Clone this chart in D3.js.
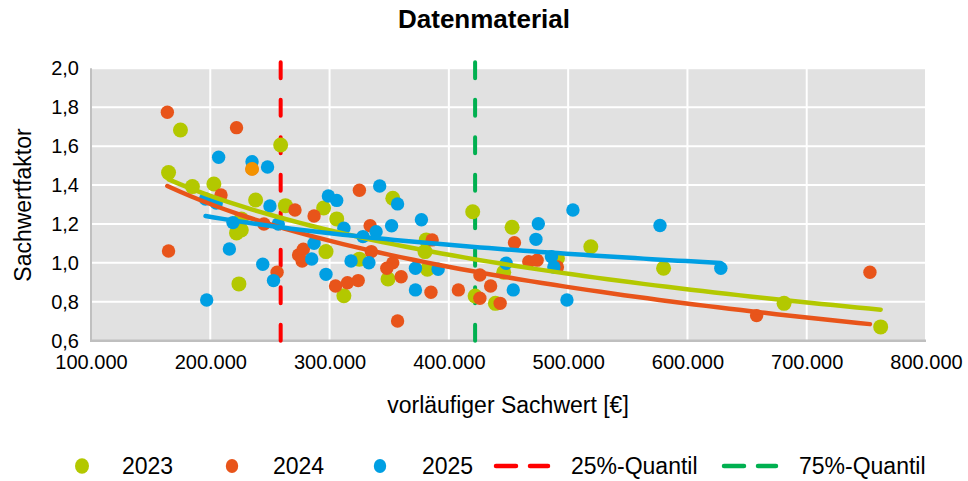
<!DOCTYPE html>
<html>
<head>
<meta charset="utf-8">
<script src="https://cdn.jsdelivr.net/npm/d3@7"></script>
<style>
  html, body { margin: 0; padding: 0; background: #ffffff; }
  svg { display: block; font-family: "Liberation Sans", Arial, sans-serif; }
</style>
</head>
<body>
<svg id="chart" width="968" height="481"></svg>
<script>
// Sachwert (EUR) and Sachwertfaktor per year
const data2023 = [
  [175000, 1.683], [259000, 1.606], [165000, 1.464], [185000, 1.392], [203000, 1.405],
  [238000, 1.323], [263000, 1.294], [226000, 1.226], [222000, 1.154], [226000, 1.169],
  [295000, 1.282], [306000, 1.226], [297000, 1.058], [325000, 1.019], [312000, 0.831],
  [224000, 0.892], [353000, 1.332], [349000, 0.917], [381000, 1.118], [380000, 1.058],
  [382000, 0.967], [420000, 1.263], [422000, 0.830], [439000, 0.792], [446000, 0.952],
  [453000, 1.183], [491000, 1.023], [519000, 1.083], [580000, 0.972], [681000, 0.792],
  [762000, 0.671]
];
const data2024 = [
  [164000, 1.774], [222000, 1.695], [235000, 1.483], [209000, 1.349], [271000, 1.272],
  [245000, 1.200], [165000, 1.061], [287000, 1.241], [325000, 1.373], [334000, 1.191],
  [335000, 1.058], [274000, 1.041], [278000, 1.070], [277000, 1.010], [256000, 0.952],
  [305000, 0.881], [315000, 0.898], [324000, 0.909], [353000, 1.000], [348000, 0.972],
  [360000, 0.929], [385000, 0.849], [386000, 1.118], [357000, 0.701], [408000, 0.861],
  [426000, 0.938], [426000, 0.818], [435000, 0.881], [443000, 0.792], [455000, 1.104],
  [467000, 1.006], [474000, 1.014], [491000, 0.979], [658000, 0.729], [753000, 0.952]
];
const data2025 = [
  [207000, 1.543], [235000, 1.520], [248000, 1.493], [196000, 1.328], [205000, 1.308],
  [250000, 1.292], [219000, 1.207], [257000, 1.200], [216000, 1.071], [244000, 0.993],
  [253000, 0.909], [197000, 0.809], [299000, 1.344], [306000, 1.321], [312000, 1.178],
  [342000, 1.395], [339000, 1.160], [328000, 1.135], [287000, 1.101], [285000, 1.020],
  [318000, 1.010], [333000, 1.001], [297000, 0.941], [357000, 1.303], [352000, 1.191],
  [377000, 1.222], [372000, 0.972], [372000, 0.861], [391000, 0.967], [448000, 0.998],
  [454000, 0.861], [475000, 1.201], [473000, 1.121], [486000, 1.032], [488000, 0.979],
  [499000, 0.809], [504000, 1.272], [577000, 1.192], [628000, 0.972]
];
// one 2024 object is marked in a separate colour
const marked2024 = [[235000, 1.483]];

// quantiles of the Sachwert
const quantile25 = 259000;
const quantile75 = 422000;

const xTicks = [100000, 200000, 300000, 400000, 500000, 600000, 700000, 800000];
const yTicks = [0.6, 0.8, 1.0, 1.2, 1.4, 1.6, 1.8, 2.0];

const series = [
  { name: "2023", values: data2023, color: "#B3C800", r: 7.5 },
  { name: "2024", values: data2024, color: "#E8541A", r: 6.7 },
  { name: "2025", values: data2025, color: "#009FE3", r: 6.7 }
];
const quantiles = [
  { name: "25%-Quantil", value: quantile25, color: "#FF0000" },
  { name: "75%-Quantil", value: quantile75, color: "#00B050" }
];

const svg = d3.select("#chart");
const plot = { left: 91, right: 926, top: 68.3, bottom: 340.7 };

const x = d3.scaleLinear().domain([100000, 800000]).range([plot.left, plot.right]);
const y = d3.scaleLinear().domain([0.6, 2.0]).range([plot.bottom, plot.top]);

const fmtX = v => d3.format(",")(v).replace(/,/g, ".");
const fmtY = v => d3.format(".1f")(v).replace(".", ",");

// title
svg.append("text")
  .attr("x", 484).attr("y", 28)
  .attr("text-anchor", "middle")
  .attr("font-size", 26).attr("font-weight", "bold")
  .attr("fill", "#000")
  .text("Datenmaterial");

// plot background
svg.append("rect")
  .attr("x", plot.left).attr("y", plot.top)
  .attr("width", plot.right - plot.left).attr("height", plot.bottom - plot.top)
  .attr("fill", "#E1E1E1");

// gridlines
const grid = svg.append("g");
grid.selectAll("line.h").data(yTicks.slice(1)).join("line")
  .attr("x1", plot.left).attr("x2", plot.right)
  .attr("y1", d => y(d)).attr("y2", d => y(d))
  .attr("stroke", "#ffffff").attr("stroke-width", 2);
grid.selectAll("line.v").data(xTicks.slice(1)).join("line")
  .attr("x1", d => x(d)).attr("x2", d => x(d))
  .attr("y1", plot.top).attr("y2", plot.bottom)
  .attr("stroke", "#ffffff").attr("stroke-width", 2);

// axes (lines drawn by hand, labels via d3 axes)
const xAxis = svg.append("g")
  .attr("transform", `translate(0,${plot.bottom})`)
  .call(d3.axisBottom(x).tickValues(xTicks).tickFormat(fmtX).tickSize(0).tickPadding(14));
xAxis.select(".domain").remove();
xAxis.selectAll("text").attr("font-size", 20).attr("fill", "#000")
  .attr("font-family", "Liberation Sans, Arial, sans-serif");

const yAxis = svg.append("g")
  .attr("transform", `translate(${plot.left},0)`)
  .call(d3.axisLeft(y).tickValues(yTicks).tickFormat(fmtY).tickSize(0).tickPadding(12));
yAxis.select(".domain").remove();
yAxis.selectAll("text").attr("font-size", 20).attr("fill", "#000")
  .attr("font-family", "Liberation Sans, Arial, sans-serif");

svg.append("line")
  .attr("x1", plot.left).attr("x2", plot.left)
  .attr("y1", plot.top).attr("y2", plot.bottom)
  .attr("stroke", "#C0C0C0").attr("stroke-width", 2);
svg.append("line")
  .attr("x1", plot.left - 1).attr("x2", plot.right)
  .attr("y1", plot.bottom).attr("y2", plot.bottom)
  .attr("stroke", "#BFBFBF").attr("stroke-width", 2.5);

// axis titles
svg.append("text")
  .attr("x", 508).attr("y", 413)
  .attr("text-anchor", "middle").attr("font-size", 23).attr("fill", "#000")
  .text("vorläufiger Sachwert [€]");
svg.append("text")
  .attr("transform", "translate(31,205) rotate(-90)")
  .attr("text-anchor", "middle").attr("font-size", 23).attr("fill", "#000")
  .text("Sachwertfaktor");

// quantile lines
const dash = "16,21.5";
svg.append("g").selectAll("line").data(quantiles).join("line")
  .attr("x1", d => x(d.value)).attr("x2", d => x(d.value))
  .attr("y1", plot.top - 6).attr("y2", plot.bottom)
  .attr("stroke", d => d.color).attr("stroke-width", 4)
  .attr("stroke-linecap", "round")
  .attr("stroke-dasharray", dash);

// points
series.forEach(s => {
  svg.append("g").selectAll("circle").data(s.values).join("circle")
    .attr("cx", d => x(d[0])).attr("cy", d => y(d[1]))
    .attr("r", s.r).attr("fill", s.color);
});
svg.append("g").selectAll("circle").data(marked2024).join("circle")
  .attr("cx", d => x(d[0])).attr("cy", d => y(d[1]))
  .attr("r", 6.9).attr("fill", "#F39200");

// logarithmic trend lines y = a + b * ln(x) (least squares)
function logFit(values) {
  const lx = values.map(d => Math.log(d[0]));
  const vy = values.map(d => d[1]);
  const mx = d3.mean(lx), my = d3.mean(vy);
  let sxy = 0, sxx = 0;
  for (let i = 0; i < lx.length; i++) {
    sxy += (lx[i] - mx) * (vy[i] - my);
    sxx += (lx[i] - mx) * (lx[i] - mx);
  }
  const b = sxy / sxx;
  const a = my - b * mx;
  return v => a + b * Math.log(v);
}

const line = d3.line().x(d => x(d[0])).y(d => y(d[1]));
series.forEach(s => {
  const f = logFit(s.values);
  const [x0, x1] = d3.extent(s.values, d => d[0]);
  const pts = d3.range(0, 61).map(i => {
    const v = x0 + (x1 - x0) * i / 60;
    return [v, f(v)];
  });
  svg.append("path")
    .attr("d", line(pts))
    .attr("fill", "none")
    .attr("stroke", s.color).attr("stroke-width", 4.5)
    .attr("stroke-linecap", "round");
});

// legend
const legend = svg.append("g");
const legendMarkers = [
  { s: series[0], mx: 82, tx: 122 },
  { s: series[1], mx: 232, tx: 273 },
  { s: series[2], mx: 380, tx: 422 }
];
legendMarkers.forEach(d => {
  legend.append("ellipse")
    .attr("cx", d.mx).attr("cy", 466)
    .attr("rx", d.s.r - 0.5).attr("ry", d.s.r + 0.3)
    .attr("fill", d.s.color);
  legend.append("text")
    .attr("x", d.tx).attr("y", 474)
    .attr("font-size", 23).attr("fill", "#000")
    .text(d.s.name);
});
const legendLines = [
  { q: quantiles[0], lx: 496, tx: 571 },
  { q: quantiles[1], lx: 724, tx: 799 }
];
legendLines.forEach(d => {
  legend.append("line")
    .attr("x1", d.lx).attr("x2", d.lx + 52)
    .attr("y1", 466).attr("y2", 466)
    .attr("stroke", d.q.color).attr("stroke-width", 4.5)
    .attr("stroke-linecap", "round")
    .attr("stroke-dasharray", "20,14");
  legend.append("text")
    .attr("x", d.tx).attr("y", 474)
    .attr("font-size", 23).attr("fill", "#000")
    .text(d.q.name);
});
</script>
</body>
</html>
